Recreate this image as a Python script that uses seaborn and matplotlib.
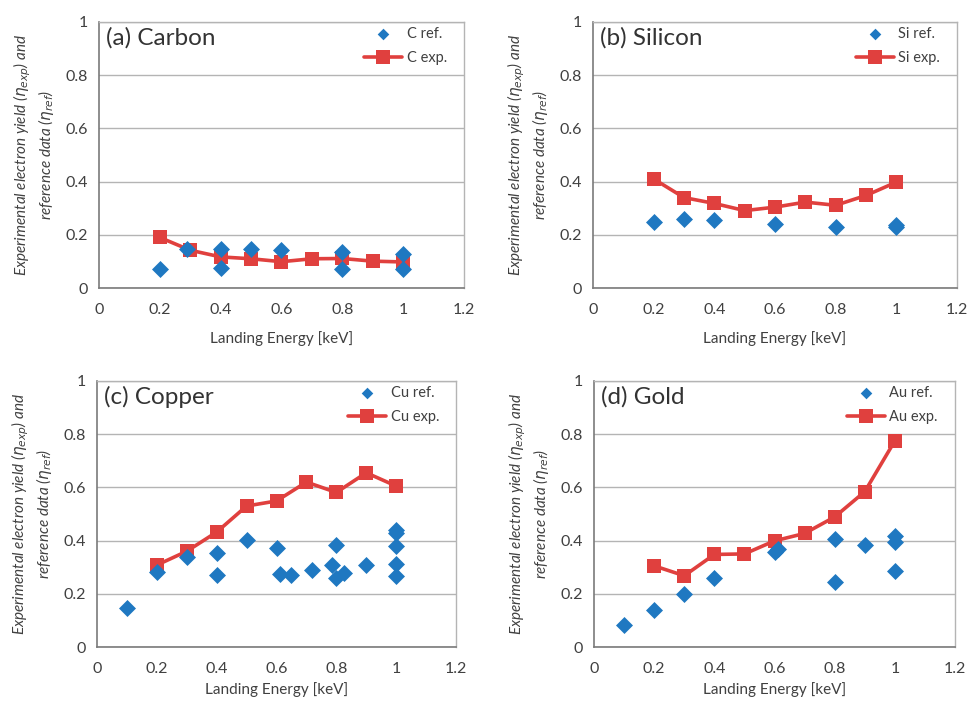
import numpy as np
import pandas as pd
import matplotlib
matplotlib.use("Agg")
import matplotlib.pyplot as plt
import seaborn as sns

# Landing energies of the experimental points (same for all four materials)
exp_energy = [0.2, 0.3, 0.4, 0.5, 0.6, 0.7, 0.8, 0.9, 1.0]

# (a) Carbon
c_exp = [0.19, 0.142, 0.117, 0.11, 0.099, 0.11, 0.111, 0.101, 0.098]
c_ref_x = [0.2, 0.29, 0.4, 0.4, 0.5, 0.6, 0.8, 0.8, 1.0, 1.0]
c_ref_y = [0.07, 0.145, 0.148, 0.077, 0.146, 0.143, 0.135, 0.07, 0.128, 0.07]

# (b) Silicon
si_exp = [0.41, 0.34, 0.318, 0.291, 0.304, 0.323, 0.311, 0.348, 0.398]
si_ref_x = [0.2, 0.3, 0.4, 0.6, 0.8, 1.0, 1.0]
si_ref_y = [0.25, 0.261, 0.256, 0.242, 0.231, 0.231, 0.236]

# (c) Copper
cu_exp = [0.308, 0.36, 0.432, 0.53, 0.549, 0.62, 0.581, 0.655, 0.605]
cu_ref_x = [0.1, 0.2, 0.3, 0.4, 0.4, 0.5, 0.6, 0.61, 0.65, 0.717, 0.784,
            0.8, 0.8, 0.827, 0.9, 1.0, 1.0, 1.0, 1.0, 1.0]
cu_ref_y = [0.145, 0.282, 0.339, 0.354, 0.27, 0.401, 0.373, 0.276, 0.27, 0.289, 0.308,
            0.384, 0.258, 0.28, 0.308, 0.438, 0.429, 0.379, 0.312, 0.267]

# (d) Gold
au_exp = [0.305, 0.268, 0.348, 0.35, 0.399, 0.427, 0.489, 0.584, 0.775]
au_ref_x = [0.1, 0.2, 0.3, 0.4, 0.6, 0.61, 0.8, 0.8, 0.9, 1.0, 1.0, 1.0]
au_ref_y = [0.082, 0.14, 0.199, 0.258, 0.356, 0.368, 0.406, 0.244, 0.384, 0.418, 0.393, 0.287]

titles = ["(a) Carbon", "(b) Silicon", "(c) Copper", "(d) Gold"]
symbols = ["C", "Si", "Cu", "Au"]
exp_vals = [c_exp, si_exp, cu_exp, au_exp]
ref_xs = [c_ref_x, si_ref_x, cu_ref_x, au_ref_x]
ref_ys = [c_ref_y, si_ref_y, cu_ref_y, au_ref_y]

xticks = [0, 0.2, 0.4, 0.6, 0.8, 1, 1.2]
xticklabels = ["0", "0.2", "0.4", "0.6", "0.8", "1", "1.2"]
yticks = [0, 0.2, 0.4, 0.6, 0.8, 1]
yticklabels = ["0", "0.2", "0.4", "0.6", "0.8", "1"]

sns.set_style("white")
plt.rcParams['font.family'] = ['Lato', 'DejaVu Sans']
plt.rcParams['mathtext.fontset'] = 'dejavusans'

blue = "#1f78c1"
red = "#e0403e"
text_col = "#404040"

fig = plt.figure(figsize=(9.67, 7.02), dpi=100)
# axes positions [left, bottom, width, height] in figure fractions
positions = [
    [0.1024, 0.5897, 0.3774, 0.3790],
    [0.6132, 0.5897, 0.3765, 0.3790],
    [0.1003, 0.0783, 0.3713, 0.3790],
    [0.6143, 0.0783, 0.3733, 0.3790],
]

ylab = ("Experimental electron yield ($\\eta_{exp}$) and\n"
        "reference data ($\\eta_{ref}$)")

for i in range(4):
    ax = fig.add_axes(positions[i])
    ref_df = pd.DataFrame({"x": ref_xs[i], "y": ref_ys[i]})
    exp_df = pd.DataFrame({"x": exp_energy, "y": exp_vals[i]})

    ax.grid(axis="y", color="#b4b4b4", linewidth=1.0, zorder=0)
    ax.set_axisbelow(True)

    sns.lineplot(data=exp_df, x="x", y="y", ax=ax, color=red, linewidth=2.6,
                 marker="s", markersize=10, markeredgewidth=0,
                 label=symbols[i] + " exp.", zorder=3)
    sns.scatterplot(data=ref_df, x="x", y="y", ax=ax, color=blue, marker="D",
                    s=75, linewidth=0, label=symbols[i] + " ref.", zorder=4)

    ax.set_xlim(0, 1.2)
    ax.set_ylim(0, 1)
    ax.set_xticks(xticks)
    ax.set_xticklabels(xticklabels)
    ax.set_yticks(yticks)
    ax.set_yticklabels(yticklabels)
    ax.tick_params(axis="both", direction="out", length=4, width=1,
                   color="#808080", labelsize=11.5, labelcolor=text_col, pad=4)
    ax.tick_params(axis="x", pad=7)

    for side in ["left", "bottom"]:
        ax.spines[side].set_color("#7a7a7a")
        ax.spines[side].set_linewidth(1.2)
    for side in ["top", "right"]:
        ax.spines[side].set_color("#b4b4b4")
        ax.spines[side].set_linewidth(1.0)

    # bottom row: the label sits right at the figure edge, keep it inside
    pad = 10 if i < 2 else 4
    ax.set_xlabel("Landing Energy [keV]", fontsize=11, color=text_col, labelpad=pad)
    ax.set_ylabel(ylab, fontsize=11, style="italic", color=text_col, labelpad=7,
                  linespacing=1.15)

    ax.text(0.02, 0.98, titles[i], transform=ax.transAxes, fontsize=17.5,
            color="#333333", va="top", ha="left")

    handles, labels = ax.get_legend_handles_labels()
    # reference entry first, then experiment
    order = [labels.index(symbols[i] + " ref."), labels.index(symbols[i] + " exp.")]
    leg = ax.legend([handles[k] for k in order], [labels[k] for k in order],
                    loc="upper right", bbox_to_anchor=(0.967, 1.0),
                    frameon=False, fontsize=10.5, handlelength=2.6,
                    labelspacing=0.7, handletextpad=0.3, borderaxespad=0.05,
                    borderpad=0.3, labelcolor=text_col)
    # smaller diamond in the legend, as in the reference
    leg.legend_handles[0].set_sizes([35])

fig.savefig("out.png", dpi=100)
